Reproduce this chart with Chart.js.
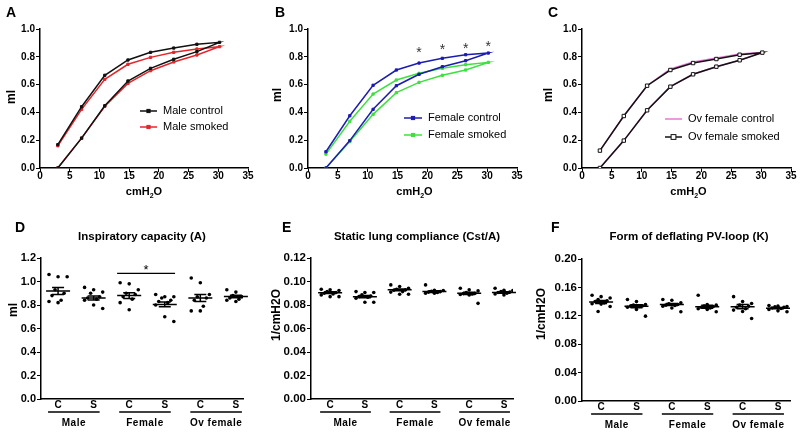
<!DOCTYPE html>
<html lang="en">
<head>
<meta charset="UTF-8">
<title>PV loops and lung mechanics</title>
<script src="https://cdn.jsdelivr.net/npm/chart.js"></script>
<style>
  body { margin: 0; background: #fff; }
  #wrap { position: relative; width: 800px; height: 440px; overflow: hidden; }
  canvas { position: absolute; }
</style>
</head>
<body>
<div id="wrap">
  <canvas id="pA"></canvas>
  <canvas id="pB"></canvas>
  <canvas id="pC"></canvas>
  <canvas id="pD"></canvas>
  <canvas id="pE"></canvas>
  <canvas id="pF"></canvas>
</div>
<script>
// ---- PV loops (A-C): volume (ml) at each pressure step, inflation and deflation limbs
const pressure = [3, 7, 10.9, 14.8, 18.6, 22.5, 26.4, 30.2];
const pressureTicks = [0, 5, 10, 15, 20, 25, 30, 35];
const volumeTicks = [0, 0.2, 0.4, 0.6, 0.8, 1.0];

const maleCtrlInf = [0, 0.215, 0.448, 0.626, 0.717, 0.782, 0.837, 0.904];
const maleCtrlDef = [0.168, 0.441, 0.667, 0.777, 0.832, 0.863, 0.89, 0.904];
const maleSmkInf = [0, 0.215, 0.444, 0.609, 0.70, 0.763, 0.813, 0.873];
const maleSmkDef = [0.16, 0.422, 0.638, 0.746, 0.796, 0.832, 0.856, 0.873];

const femCtrlInf = [0, 0.197, 0.422, 0.592, 0.674, 0.729, 0.772, 0.827];
const femCtrlDef = [0.117, 0.376, 0.595, 0.705, 0.755, 0.789, 0.815, 0.827];
const femSmkInf = [0, 0.19, 0.386, 0.542, 0.616, 0.667, 0.705, 0.76];
const femSmkDef = [0.10, 0.336, 0.532, 0.633, 0.681, 0.717, 0.743, 0.76];
const femStarX = [18.6, 22.5, 26.4, 30.2];
const femStarY = [0.85, 0.87, 0.875, 0.89];

const ovCtrlInf = [0, 0.197, 0.415, 0.585, 0.674, 0.729, 0.775, 0.832];
const ovCtrlDef = [0.125, 0.374, 0.592, 0.712, 0.762, 0.792, 0.82, 0.832];
const ovSmkInf = [0, 0.197, 0.415, 0.585, 0.674, 0.729, 0.775, 0.83];
const ovSmkDef = [0.125, 0.374, 0.592, 0.705, 0.755, 0.784, 0.815, 0.83];

// ---- column scatters (D-F)
const columns = ['C', 'S', 'C', 'S', 'C', 'S'];
const groups = ['Male', 'Female', 'Ov female'];

const icTicks = [0, 0.2, 0.4, 0.6, 0.8, 1.0, 1.2];
const icPoints = [
  [1.06, 1.04, 1.04, 0.93, 0.90, 0.88, 0.84, 0.83, 0.82],
  [0.95, 0.93, 0.91, 0.90, 0.87, 0.86, 0.85, 0.84, 0.80, 0.77],
  [0.99, 0.98, 0.93, 0.90, 0.89, 0.87, 0.85, 0.82, 0.76],
  [0.89, 0.87, 0.87, 0.86, 0.84, 0.83, 0.82, 0.80, 0.70, 0.66],
  [1.03, 0.99, 0.89, 0.87, 0.86, 0.84, 0.79, 0.75, 0.75],
  [0.93, 0.91, 0.89, 0.88, 0.87, 0.86, 0.85, 0.84, 0.83]
];
const icMean = [0.92, 0.86, 0.88, 0.805, 0.86, 0.872];
const icSem = [0.03, 0.017, 0.025, 0.02, 0.03, 0.01];

const cstTicks = [0, 0.02, 0.04, 0.06, 0.08, 0.10, 0.12];
const cstPoints = [
  [0.0934, 0.0929, 0.0923, 0.0914, 0.0906, 0.0900, 0.0894, 0.0886, 0.0871, 0.0871],
  [0.0914, 0.0906, 0.0906, 0.0886, 0.0877, 0.0871, 0.0866, 0.0857, 0.0823, 0.0823],
  [0.0971, 0.0957, 0.0943, 0.0934, 0.0929, 0.0926, 0.0914, 0.0910, 0.0891, 0.0891],
  [0.0971, 0.0926, 0.0923, 0.0917, 0.0914, 0.0910, 0.0906, 0.0900, 0.0900],
  [0.0943, 0.0929, 0.0920, 0.0906, 0.0900, 0.0897, 0.0894, 0.0890, 0.0886, 0.0814],
  [0.0943, 0.0926, 0.0923, 0.0914, 0.0910, 0.0906, 0.0900, 0.0894, 0.0886]
];
const cstMean = [0.0905, 0.0871, 0.0929, 0.0914, 0.0899, 0.0906];
const cstSem = [0.0007, 0.0009, 0.0008, 0.0007, 0.001, 0.0006];

const kTicks = [0, 0.04, 0.08, 0.12, 0.16, 0.20];
const kPoints = [
  [0.149, 0.147, 0.145, 0.143, 0.141, 0.140, 0.138, 0.137, 0.1365, 0.133, 0.126],
  [0.143, 0.140, 0.136, 0.135, 0.134, 0.1336, 0.133, 0.132, 0.129, 0.1195],
  [0.143, 0.142, 0.1384, 0.137, 0.136, 0.135, 0.1345, 0.1336, 0.131, 0.1256],
  [0.149, 0.136, 0.135, 0.1336, 0.133, 0.132, 0.131, 0.130, 0.129, 0.1256],
  [0.147, 0.140, 0.1374, 0.135, 0.1336, 0.132, 0.130, 0.128, 0.126, 0.1162],
  [0.1345, 0.1336, 0.133, 0.1327, 0.132, 0.131, 0.1303, 0.129, 0.127, 0.1256]
];
const kMean = [0.1395, 0.1335, 0.136, 0.1327, 0.1328, 0.1308];
const kSem = [0.002, 0.002, 0.0015, 0.002, 0.003, 0.001];

const FONT = 'Arial, "Liberation Sans", sans-serif';

// inflation limb up, then deflation limb back down
function loop(inf, def) {
  const pts = pressure.map((p, i) => ({ x: p, y: inf[i] }));
  for (let i = pressure.length - 2; i >= 0; i--) pts.push({ x: pressure[i], y: def[i] });
  return pts;
}

// spread the dots of one column sideways a little
function columnDots(sets) {
  const pts = [];
  sets.forEach((vals, g) => {
    vals.forEach((v, i) => {
      pts.push({ x: g + 1 + (((i * 3) % 7) - 3) * 0.085, y: v });
    });
  });
  return pts;
}

function drawCmH2O(ctx, cx, y) {
  ctx.font = 'bold 11px ' + FONT;
  const a = ctx.measureText('cmH').width;
  const o = ctx.measureText('O').width;
  ctx.font = 'bold 7px ' + FONT;
  const s = ctx.measureText('2').width;
  let x = cx - (a + s + o) / 2;
  ctx.textAlign = 'left';
  ctx.font = 'bold 11px ' + FONT;
  ctx.fillText('cmH', x, y);
  ctx.font = 'bold 7px ' + FONT;
  ctx.fillText('2', x + a, y + 4);
  ctx.font = 'bold 11px ' + FONT;
  ctx.fillText('O', x + a + s, y);
}

const decor = {
  id: 'decor',
  afterDatasetsDraw(chart, args, o) {
    const ctx = chart.ctx, xs = chart.scales.x, ys = chart.scales.y;
    if (!o.mean) return;
    ctx.save();
    ctx.strokeStyle = '#000';
    ctx.lineWidth = 1.5;
    o.mean.forEach((m, g) => {
      const cx = xs.getPixelForValue(g + 1);
      const my = ys.getPixelForValue(m);
      const hi = ys.getPixelForValue(m + o.sem[g]);
      const lo = ys.getPixelForValue(m - o.sem[g]);
      ctx.beginPath();
      ctx.moveTo(cx - 12, my); ctx.lineTo(cx + 12, my);
      ctx.moveTo(cx, hi); ctx.lineTo(cx, lo);
      ctx.moveTo(cx - 6, hi); ctx.lineTo(cx + 6, hi);
      ctx.moveTo(cx - 6, lo); ctx.lineTo(cx + 6, lo);
      ctx.stroke();
    });
    ctx.restore();
  },
  afterDraw(chart, args, o) {
    const ctx = chart.ctx, ca = chart.chartArea, xs = chart.scales.x, ys = chart.scales.y;
    ctx.save();
    ctx.fillStyle = '#000';
    ctx.textBaseline = 'middle';

    ctx.font = 'bold 14px ' + FONT;
    ctx.textAlign = 'left';
    ctx.fillText(o.letter[0], o.letter[1], o.letter[2]);

    ctx.save();
    ctx.translate(o.yTitle[1], o.yTitle[2]);
    ctx.rotate(-Math.PI / 2);
    ctx.font = 'bold 12px ' + FONT;
    ctx.textAlign = 'center';
    ctx.fillText(o.yTitle[0], 0, 0);
    ctx.restore();

    if (o.cmH2O) drawCmH2O(ctx, (ca.left + ca.right) / 2 + (o.cmDx || 0), ca.bottom + 24);

    if (o.title) {
      ctx.font = 'bold 11.5px ' + FONT;
      ctx.textAlign = 'center';
      ctx.fillText(o.title, (ca.left + ca.right) / 2 + (o.titleDx || 0), 27);
    }

    if (o.legend) {
      const L = o.legend;
      ctx.font = '11px ' + FONT;
      ctx.textAlign = 'left';
      L.items.forEach((idx, r) => {
        const ds = chart.data.datasets[idx];
        const y = L.y + r * L.gap;
        ctx.strokeStyle = ds.borderColor;
        ctx.lineWidth = 1.5;
        ctx.beginPath();
        ctx.moveTo(L.x, y); ctx.lineTo(L.x + L.len, y);
        ctx.stroke();
        if (ds.pointRadius > 0) {
          const mx = L.x + L.len / 2, rr = ds.pointRadius;
          ctx.fillStyle = ds.pointBackgroundColor || ds.borderColor;
          ctx.fillRect(mx - rr, y - rr, rr * 2, rr * 2);
          ctx.lineWidth = 1;
          ctx.strokeRect(mx - rr, y - rr, rr * 2, rr * 2);
        }
        ctx.fillStyle = '#000';
        ctx.fillText(ds.label, L.x + L.len + 6, y);
      });
    }

    if (o.stars) {
      ctx.fillStyle = '#333';
      ctx.font = '14px ' + FONT;
      ctx.textAlign = 'center';
      o.stars.x.forEach((sx, i) => {
        ctx.fillText('*', xs.getPixelForValue(sx), ys.getPixelForValue(o.stars.y[i]) + 3);
      });
      ctx.fillStyle = '#000';
    }

    if (o.sig) {
      const x1 = xs.getPixelForValue(o.sig.x1), x2 = xs.getPixelForValue(o.sig.x2);
      const y = ys.getPixelForValue(o.sig.y);
      ctx.strokeStyle = '#000';
      ctx.lineWidth = 1.3;
      ctx.beginPath(); ctx.moveTo(x1, y); ctx.lineTo(x2, y); ctx.stroke();
      ctx.font = '13px ' + FONT;
      ctx.textAlign = 'center';
      ctx.fillText('*', (x1 + x2) / 2, y - 3);
    }

    if (o.groups) {
      ctx.strokeStyle = '#000';
      ctx.lineWidth = 1.3;
      ctx.font = 'bold 10px ' + FONT;
      ctx.textAlign = 'center';
      ctx.letterSpacing = '0.5px';
      o.groups.forEach((gname, k) => {
        const a = xs.getPixelForValue(2 * k + 1) - 10;
        const b = xs.getPixelForValue(2 * k + 2) + 6;
        ctx.beginPath();
        ctx.moveTo(a, ca.bottom + 13); ctx.lineTo(b, ca.bottom + 13);
        ctx.stroke();
        ctx.fillText(gname, (a + b) / 2, ca.bottom + 24);
      });
    }
    ctx.restore();
  }
};

function axis(a, fit) {
  return {
    type: 'linear',
    min: a.min,
    max: a.max,
    afterFit: fit,
    afterBuildTicks: s => { s.ticks = a.values.map(v => ({ value: v })); },
    ticks: {
      callback: a.fmt,
      color: '#000',
      font: { family: FONT, size: a.size || 10, weight: 'bold', lineHeight: 1 },
      padding: a.pad,
      maxRotation: 0,
      autoSkip: false
    },
    grid: { drawOnChartArea: false, drawTicks: a.tick !== false, tickLength: 4, color: '#000', lineWidth: 1 },
    border: { color: '#000', width: 1.5 }
  };
}

function panel(id, box, cfg) {
  const cv = document.getElementById(id);
  cv.width = box.w;
  cv.height = box.h;
  cv.style.left = box.x + 'px';
  cv.style.top = box.y + 'px';
  return new Chart(cv, {
    type: 'scatter',
    data: { datasets: cfg.datasets },
    options: {
      responsive: false,
      animation: false,
      events: [],
      layout: { padding: { left: 0, top: box.t, right: box.w - box.r, bottom: 0 } },
      plugins: { legend: { display: false }, tooltip: { enabled: false }, decor: cfg.decor },
      scales: {
        x: axis(cfg.x, s => { s.height = box.h - box.b; }),
        y: axis(cfg.y, s => { s.width = box.l; })
      }
    },
    plugins: [decor]
  });
}

function loopSet(label, color, pts, extra) {
  return Object.assign({
    label: label,
    data: pts,
    showLine: true,
    borderColor: color,
    backgroundColor: color,
    borderWidth: 1.5,
    pointStyle: 'rect',
    pointRadius: 1.6,
    pointBorderWidth: 1,
    tension: 0
  }, extra || {});
}

function dotSet(sets) {
  return {
    label: 'dots',
    data: columnDots(sets),
    pointRadius: 1.8,
    backgroundColor: '#000',
    borderColor: '#000',
    borderWidth: 0
  };
}

const fmt1 = v => v.toFixed(1);
const fmt2 = v => v.toFixed(2);
const pxAxis = { min: 0, max: 35, values: pressureTicks, fmt: v => v, pad: -1 };
const volAxis = { min: 0, max: 1.0, values: volumeTicks, fmt: fmt1, pad: 1 };
const colFmt = v => columns[Math.round(v) - 1];
const colValues = columns.map((c, i) => i + 1);

panel('pA', { x: 0, y: 0, w: 265, h: 210, l: 40, t: 29, r: 248, b: 168 }, {
  datasets: [
    loopSet('Male control', '#111111', loop(maleCtrlInf, maleCtrlDef)),
    loopSet('Male smoked', '#e3262b', loop(maleSmkInf, maleSmkDef))
  ],
  x: pxAxis, y: volAxis,
  decor: {
    letter: ['A', 6, 13], yTitle: ['ml', 12, 97], cmH2O: true,
    legend: { x: 140, y: 111, gap: 16, len: 17, items: [0, 1] }
  }
});

panel('pB', { x: 265, y: 0, w: 265, h: 210, l: 43, t: 29, r: 252, b: 168 }, {
  datasets: [
    loopSet('Female control', '#1c1cb0', loop(femCtrlInf, femCtrlDef)),
    loopSet('Female smoked', '#3ee03e', loop(femSmkInf, femSmkDef))
  ],
  x: pxAxis, y: volAxis,
  decor: {
    letter: ['B', 10, 13], yTitle: ['ml', 13, 95], cmH2O: true, cmDx: 2,
    legend: { x: 139, y: 118, gap: 17, len: 18, items: [0, 1] },
    stars: { x: femStarX, y: femStarY }
  }
});

panel('pC', { x: 530, y: 0, w: 270, h: 210, l: 52, t: 29, r: 261, b: 168 }, {
  datasets: [
    loopSet('Ov female control', '#e47ad6', loop(ovCtrlInf, ovCtrlDef), { pointRadius: 0, order: 1 }),
    loopSet('Ov female smoked', '#111111', loop(ovSmkInf, ovSmkDef), { pointRadius: 2.4, pointBackgroundColor: '#ffffff', pointBorderColor: '#111111' })
  ],
  x: pxAxis, y: volAxis,
  decor: {
    letter: ['C', 18, 13], yTitle: ['ml', 19, 95], cmH2O: true, cmDx: 2,
    legend: { x: 135, y: 119, gap: 18, len: 17, items: [0, 1] }
  }
});

panel('pD', { x: 0, y: 210, w: 265, h: 230, l: 41, t: 48, r: 243, b: 189 }, {
  datasets: [dotSet(icPoints)],
  x: { min: 0.52, max: 6.2, values: colValues, fmt: colFmt, pad: 1, tick: false },
  y: { min: 0, max: 1.2, values: icTicks, fmt: fmt1, pad: 1, size: 11 },
  decor: {
    letter: ['D', 15, 18], yTitle: ['ml', 14, 100], title: 'Inspiratory capacity (A)',
    mean: icMean, sem: icSem, groups: groups,
    sig: { x1: 2.66, x2: 4.29, y: 1.07 }
  }
});

panel('pE', { x: 265, y: 210, w: 265, h: 230, l: 46, t: 48, r: 248, b: 189 }, {
  datasets: [dotSet(cstPoints)],
  x: { min: 0.45, max: 6.26, values: colValues, fmt: colFmt, pad: 1, tick: false },
  y: { min: 0, max: 0.12, values: cstTicks, fmt: fmt2, pad: 1, size: 11.5 },
  decor: {
    letter: ['E', 17, 18], yTitle: ['1/cmH2O', 12, 105], title: 'Static lung compliance (Cst/A)', titleDx: 5,
    mean: cstMean, sem: cstSem, groups: groups
  }
});

panel('pF', { x: 530, y: 210, w: 270, h: 230, l: 52, t: 49, r: 260, b: 191 }, {
  datasets: [dotSet(kPoints)],
  x: { min: 0.46, max: 6.34, values: colValues, fmt: colFmt, pad: 1, tick: false },
  y: { min: 0, max: 0.2, values: kTicks, fmt: fmt2, pad: 1, size: 11.5 },
  decor: {
    letter: ['F', 21, 18], yTitle: ['1/cmH2O', 12, 104], title: 'Form of deflating PV-loop (K)', titleDx: 3,
    mean: kMean, sem: kSem, groups: groups
  }
});
</script>
</body>
</html>
